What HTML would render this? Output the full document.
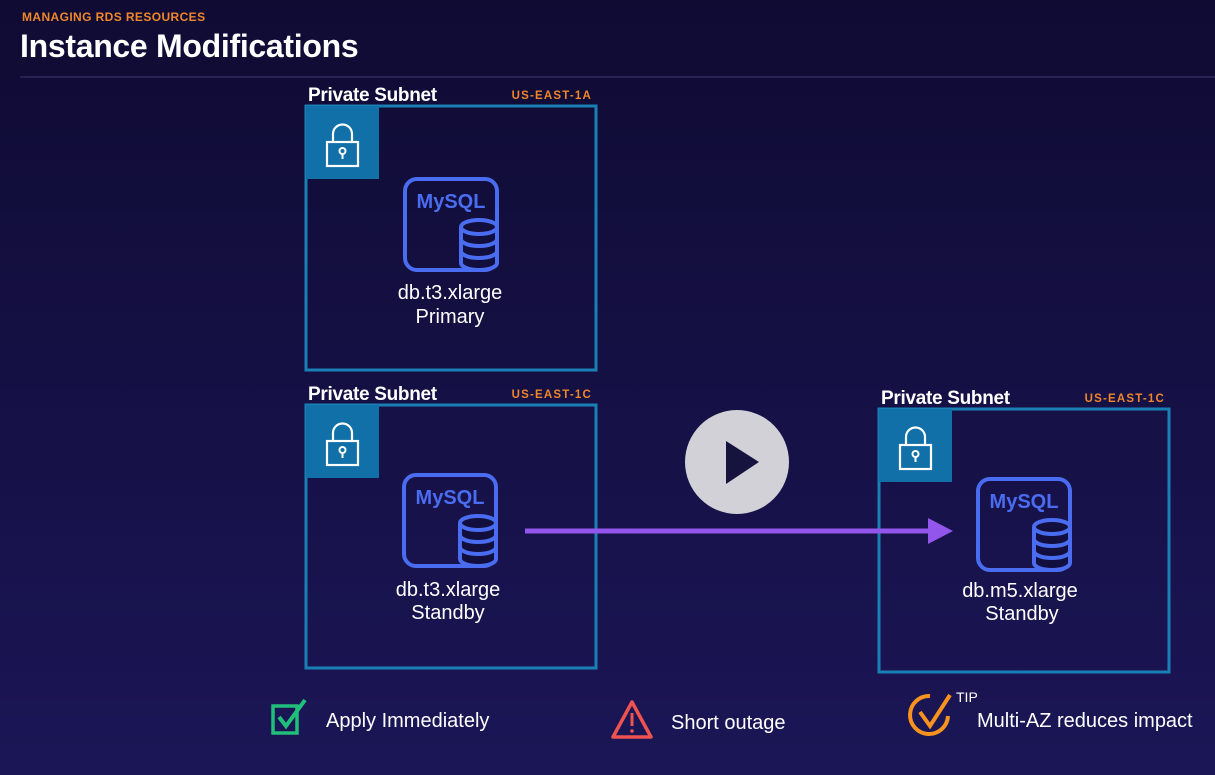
<!DOCTYPE html>
<html><head><meta charset="utf-8"><style>
html,body{margin:0;padding:0;background:#120e3c;}
svg{display:block;}
text{font-family:"Liberation Sans",sans-serif;}
</style></head><body>
<svg width="1215" height="775" viewBox="0 0 1215 775" xmlns="http://www.w3.org/2000/svg">
<defs>
<linearGradient id="bg" x1="0" y1="0" x2="0" y2="1">
<stop offset="0" stop-color="#0f0b33"/><stop offset="1" stop-color="#1b1656"/>
</linearGradient>
<g id="lock">
<rect x="0" y="0" width="73" height="73" fill="#1170a8"/>
<path d="M27 36 V28 a9.5 9.5 0 0 1 19 0 V36" fill="none" stroke="#fff" stroke-width="2.2"/>
<rect x="21" y="36" width="31" height="24" fill="none" stroke="#fff" stroke-width="2.2"/>
<circle cx="36.5" cy="45" r="3" fill="none" stroke="#fff" stroke-width="2"/>
<line x1="36.5" y1="48" x2="36.5" y2="53" stroke="#fff" stroke-width="2"/>
</g>
<g id="db">
<rect x="2" y="2" width="92" height="91" rx="12" fill="none" stroke="#4a6cf0" stroke-width="4"/>
<path d="M58 50 V86 a18 7 0 0 0 36 0 V50" fill="#120f3e" stroke="#4a6cf0" stroke-width="4"/>
<ellipse cx="76" cy="50" rx="18" ry="7" fill="#120f3e" stroke="#4a6cf0" stroke-width="4"/>
<path d="M58 62 a18 7 0 0 0 36 0 M58 74 a18 7 0 0 0 36 0" fill="none" stroke="#4a6cf0" stroke-width="4"/>
</g>
</defs>
<rect width="1215" height="775" fill="url(#bg)"/>
<text x="22" y="21" font-size="12" font-weight="bold" fill="#f0862a" letter-spacing="0.4">MANAGING RDS RESOURCES</text>
<text x="20" y="57" font-size="32" font-weight="bold" fill="#fff" letter-spacing="-0.3">Instance Modifications</text>
<line x1="20" y1="77" x2="1215" y2="77" stroke="#2e2a5e" stroke-width="1.5"/>

<!-- box1 -->
<text x="308" y="101" font-size="19" font-weight="bold" fill="#fff" letter-spacing="-0.3">Private Subnet</text>
<text x="592" y="99" font-size="11.5" font-weight="bold" fill="#f0862a" text-anchor="end" letter-spacing="1.2">US-EAST-1A</text>
<rect x="306" y="106" width="290" height="264" fill="none" stroke="#1a7fb5" stroke-width="3"/>
<use href="#lock" x="306" y="106"/>
<use href="#db" x="403" y="177"/>
<text x="451" y="208" font-size="20" font-weight="bold" fill="#4a6cf0" text-anchor="middle">MySQL</text>
<text x="450" y="299" font-size="20" fill="#fff" text-anchor="middle">db.t3.xlarge</text>
<text x="450" y="323" font-size="20" fill="#fff" text-anchor="middle">Primary</text>

<!-- box2 -->
<text x="308" y="400" font-size="19" font-weight="bold" fill="#fff" letter-spacing="-0.3">Private Subnet</text>
<text x="592" y="398" font-size="11.5" font-weight="bold" fill="#f0862a" text-anchor="end" letter-spacing="1.2">US-EAST-1C</text>
<rect x="306" y="405" width="290" height="263" fill="none" stroke="#1a7fb5" stroke-width="3"/>
<use href="#lock" x="306" y="405"/>
<use href="#db" x="402" y="473"/>
<text x="450" y="504" font-size="20" font-weight="bold" fill="#4a6cf0" text-anchor="middle">MySQL</text>
<text x="448" y="596" font-size="20" fill="#fff" text-anchor="middle">db.t3.xlarge</text>
<text x="448" y="619" font-size="20" fill="#fff" text-anchor="middle">Standby</text>

<!-- box3 -->
<text x="881" y="404" font-size="19" font-weight="bold" fill="#fff" letter-spacing="-0.3">Private Subnet</text>
<text x="1165" y="402" font-size="11.5" font-weight="bold" fill="#f0862a" text-anchor="end" letter-spacing="1.2">US-EAST-1C</text>
<rect x="879" y="409" width="290" height="263" fill="none" stroke="#1a7fb5" stroke-width="3"/>
<use href="#lock" x="879" y="409"/>
<use href="#db" x="976" y="477"/>
<text x="1024" y="508" font-size="20" font-weight="bold" fill="#4a6cf0" text-anchor="middle">MySQL</text>
<text x="1020" y="597" font-size="20" fill="#fff" text-anchor="middle">db.m5.xlarge</text>
<text x="1022" y="620" font-size="20" fill="#fff" text-anchor="middle">Standby</text>

<!-- arrow -->
<line x1="525" y1="531" x2="932" y2="531" stroke="#9356ec" stroke-width="5"/>
<polygon points="928,518 953,531 928,544" fill="#9356ec"/>

<!-- play -->
<circle cx="737" cy="462" r="52" fill="#d3d1d8"/>
<polygon points="726,441 726,484 759,462" fill="#17133f"/>

<!-- legend -->
<rect x="273" y="706" width="24" height="27" fill="none" stroke="#20c07a" stroke-width="3.5"/>
<path d="M279 717 L286 726 L305 700" fill="none" stroke="#20c07a" stroke-width="4"/>
<text x="326" y="727" font-size="20" fill="#fff">Apply Immediately</text>
<path d="M632 702 L651 737 L613 737 Z" fill="none" stroke="#ef5350" stroke-width="3.5" stroke-linejoin="round"/>
<line x1="632" y1="713" x2="632" y2="726" stroke="#ef5350" stroke-width="3"/>
<circle cx="632" cy="731" r="1.8" fill="#ef5350"/>
<text x="671" y="729" font-size="20" fill="#fff">Short outage</text>
<path d="M930 696 A19 19 0 1 0 948 716" fill="none" stroke="#f7931e" stroke-width="4"/>
<path d="M920 712 L930 726 L950 695" fill="none" stroke="#f7931e" stroke-width="4"/>
<text x="956" y="702" font-size="14" fill="#fff">TIP</text>
<text x="977" y="727" font-size="20" fill="#fff">Multi-AZ reduces impact</text>
</svg>
</body></html>
